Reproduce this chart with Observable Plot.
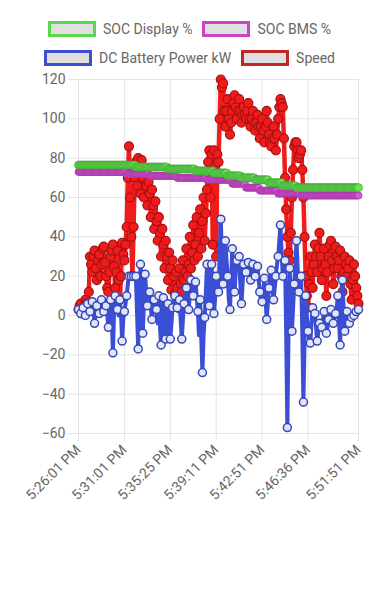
<!DOCTYPE html>
<html><head><meta charset="utf-8">
<script src="https://cdn.jsdelivr.net/npm/d3@7"></script>
<script src="https://cdn.jsdelivr.net/npm/@observablehq/plot@0.6"></script>
<style>
body{margin:0;background:#fff;font-family:Roboto,sans-serif;}
#legend{position:relative;width:390px;height:70px;}
.row{position:absolute;left:0;width:379px;display:flex;justify-content:center;align-items:center;}
.item{display:flex;align-items:center;color:#666;font-size:14px;margin:0 5px;white-space:nowrap;}
.box{width:42px;height:10px;border:3px solid;background:#e0e0e0;margin-right:7px;}
</style></head>
<body>
<div id="legend"></div>
<div id="chart"></div>
<script>
const seriesNames = ["SOC Display %", "SOC BMS %", "DC Battery Power kW", "Speed"];
const seriesColors = ["#58d84a", "#c845c8", "#3b4fd0", "#c02828"];
const tickIdx = [0, 40, 80, 120, 160, 200, 244];
const tickLabels = ["5:26:01 PM", "5:31:01 PM", "5:35:25 PM", "5:39:11 PM", "5:42:51 PM", "5:46:36 PM", "5:51:51 PM"];
const yTicks = [-60, -40, -20, 0, 20, 40, 60, 80, 100, 120];

const socDisplay = [
 76.5,76.5,76.5,76.5,76.5,76.5,76.5,76.5,76.5,76.5,
 76.5,76.5,76.5,76.5,76.5,76.5,76.5,76.5,76.5,76.5,
 76.5,76.5,76.5,76.5,76.5,76.5,76.5,76.5,76.5,76.5,
 76.5,76.5,76.5,76.5,76.5,76.5,76.5,76.5,76.5,76.5,
 76.5,76.5,76.5,76.5,76.5,76.5,76.5,76.5,76.5,76.5,
 75.5,75.5,75.5,75.5,75.5,75.5,75.5,75.5,75.5,75.5,
 75.5,75.5,75.5,75.5,75.5,75.5,75.5,75.5,75.5,75.5,
 75.5,75.5,75.5,75.5,75.5,75.5,75.5,75.5,
 74.5,74.5,74.5,74.5,74.5,74.5,74.5,74.5,74.5,74.5,
 74.5,74.5,74.5,74.5,74.5,74.5,74.5,74.5,74.5,74.5,
 74.5,74.5,74.5,74.5,
 73.5,73.5,73.5,73.5,73.5,73.5,73.5,73.5,73.5,73.5,
 73.5,73.5,73.5,73.5,73.5,73.5,
 72.5,72.5,72.5,72.5,72.5,72.5,72.5,72.5,72.5,72.5,72.5,72.5,
 71,71,71,71,71,71,71,71,71,71,71,71,
 70,70,70,70,70,70,70,70,70,70,70,70,
 69,69,69,69,69,69,69,69,69,69,69,69,
 67.5,67.5,67.5,67.5,67.5,67.5,67.5,67.5,67.5,67.5,67.5,67.5,
 66,66,66,66,66,66,66,66,66,66,66,66,
 65,65,65,65,65,65,65,65,65,65,
 65,65,65,65,65,65,65,65,65,65,
 65,65,65,65,65,65,65,65,65,65,
 65,65,65,65,65,65,65,65,65,65,
 65,65,65,65,65,65,65,65,65,65,
 65,65,65,65,65
];
const socBms = [
 73,73,73,73,73,73,73,73,73,73,
 73,73,73,73,73,73,73,73,73,73,
 73,73,73,73,73,73,73,73,73,73,
 73,73,73,73,73,73,73,73,73,73,
 73,73,
 72,72,72,72,72,72,72,72,72,72,
 72,72,72,72,72,72,72,72,72,72,
 71,71,71,71,71,71,71,71,71,71,
 71,71,71,71,71,71,71,71,71,71,
 71,71,71,71,
 70,70,70,70,70,70,70,70,70,70,
 70,70,70,70,70,70,70,70,70,70,
 70,70,70,70,70,70,
 69,69,69,69,69,69,69,69,69,69,
 69,69,69,69,69,69,69,69,69,69,
 69,69,
 67,67,67,67,67,67,67,67,67,67,67,67,
 65,65,65,65,65,65,65,65,65,65,65,65,
 63.5,63.5,63.5,63.5,63.5,63.5,63.5,63.5,
 63.5,63.5,63.5,63.5,63.5,63.5,63.5,63.5,
 62,62,62,62,62,62,62,62,62,62,
 62,62,62,62,62,62,62,62,62,62,
 61,61,61,61,61,61,61,61,61,61,
 61,61,61,61,61,61,61,61,61,61,
 61,61,61,61,61,61,61,61,61,61,
 61,61,61,61,61,61,61,61,61,61,
 61,61,61,61,61,61,61,61,61,61,
 61
];
const power = [
 3,2,1,4,4,2,0,3,6,4,
 2,5,7,3,-4,2,5,3,1,6,
 8,4,2,6,5,1,-6,4,8,-2,
 -19,2,10,6,3,0,8,2,-13,-2,
 2,6,10,16,20,20,20,20,20,20,
 20,2,-17,8,26,14,-9,6,21,12,
 5,8,12,4,-2,3,8,6,3,-4,
 10,-6,-15,-2,9,0,-12,-2,6,-4,
 -12,-4,4,8,10,6,4,2,8,-2,
 -12,-2,6,10,14,8,3,10,18,14,
 10,14,17,10,2,-10,8,-12,-29,-10,
 -1,12,26,15,5,16,26,12,1,8,
 20,14,12,30,49,30,16,26,38,28,
 20,8,3,18,34,20,12,22,28,26,
 30,16,6,16,26,24,22,24,27,22,
 18,22,26,24,20,22,25,18,12,8,
 7,12,19,8,-2,6,14,20,23,14,
 8,14,20,26,30,38,46,32,20,26,
 28,-10,-57,-10,24,8,-8,4,16,26,
 38,24,12,16,20,-8,-44,-12,10,0,
 -8,-12,-14,-4,4,2,1,-6,-13,-8,
 -4,-6,-6,-2,2,-4,-9,-6,-2,0,
 3,-1,-4,-2,1,4,10,-2,-15,2,
 18,4,-8,-2,2,0,-4,-2,-1,0,
 0,1,2,2,3
];
const speed = [
 3,5,6,2,1,4,8,6,4,12,
 30,
 26,22,30,33,24,18,28,31,20,26,
 34,35,27,20,14,12,22,30,33,36,
 25,14,22,33,18,8,20,37,31,28,
 36,
 45,70,86,60,40,20,45,70,78,66,
 80,72,62,79,70,60,74,66,56,68,
 62,50,64,56,44,58,48,38,50,42,
 30,44,36,24,38,30,18,32,24,13,
 28,20,11,22,14,10,24,16,12,28,
 18,22,34,20,26,40,24,32,46,28,
 36,50,30,42,54,34,48,60,38,52,
 64,78,84,60,82,36,84,76,30,82,
 78,100,120,116,118,104,96,104,110,100,
 92,98,104,108,112,106,100,104,110,104,
 98,102,106,102,100,104,108,100,96,100,
 104,98,94,98,102,96,90,96,100,94,
 88,96,104,98,92,88,86,90,96,90,
 84,92,100,106,110,108,106,90,70,54,
 40,32,28,42,60,74,86,88,88,84,
 80,82,84,74,60,40,20,10,4,16,
 30,22,14,26,36,30,22,34,42,30,
 18,24,34,26,10,22,30,36,38,28,
 16,24,35,30,24,28,33,20,12,22,
 30,26,20,24,28,16,8,18,26,20,
 14,10,6
];

// legend
const legend = document.getElementById("legend");
const rows = [[0, 1], [2, 3]];
const rowTops = [21, 50];
rows.forEach((r, ri) => {
  const row = document.createElement("div");
  row.className = "row";
  row.style.top = rowTops[ri] + "px";
  r.forEach(k => {
    const it = document.createElement("div");
    it.className = "item";
    const b = document.createElement("span");
    b.className = "box";
    b.style.borderColor = seriesColors[k];
    it.appendChild(b);
    it.appendChild(document.createTextNode(seriesNames[k]));
    row.appendChild(it);
  });
  legend.appendChild(row);
});

const labelOf = new Map(tickIdx.map((t, i) => [t, tickLabels[i]]));
const X = (d, i) => i;
const Y = d => d;

const chart = Plot.plot({
  width: 390,
  height: 529,
  marginTop: 9,
  marginLeft: 78,
  marginRight: 32,
  marginBottom: 166,
  style: {fontFamily: "Roboto, sans-serif", fontSize: "14px", background: "#fff"},
  x: {domain: [0, 244]},
  y: {domain: [-60, 120]},
  marks: [
    Plot.gridY({ticks: yTicks, stroke: "#e3e3e3", strokeOpacity: 1}),
    Plot.gridX({ticks: tickIdx, stroke: "#e3e3e3", strokeOpacity: 1}),
    Plot.axisY({ticks: yTicks, tickSize: 10, tickPadding: 3, stroke: "#e3e3e3", fill: "#666", fontSize: 14, label: null}),
    Plot.axisX({ticks: tickIdx, tickSize: 8, tickPadding: 6, tickRotate: -45, tickFormat: d => labelOf.get(d), stroke: "#e3e3e3", fill: "#666", fontSize: 14, label: null}),
    Plot.line(speed, {x: X, y: Y, stroke: "#f01c1c", strokeWidth: 4.5}),
    Plot.dot(speed, {x: X, y: Y, r: 4.5, fill: "#f01c1c", stroke: "#a51010", strokeWidth: 1.2}),
    Plot.line(power, {x: X, y: Y, stroke: "#3b4fd6", strokeWidth: 4}),
    Plot.dot(power, {x: X, y: Y, r: 4, fill: "#e2e5f7", stroke: "#3447b8", strokeWidth: 1.5, filter: (d, i) => i % 2 === 0}),
    Plot.line(socBms, {x: X, y: Y, stroke: "#cc4ccc", strokeWidth: 4}),
    Plot.dot(socBms, {x: X, y: Y, r: 3.5, fill: "#d35ad3", stroke: "#a634a6", strokeWidth: 0.8}),
    Plot.line(socDisplay, {x: X, y: Y, stroke: "#5fe04c", strokeWidth: 4}),
    Plot.dot(socDisplay, {x: X, y: Y, r: 4, fill: "#66e452", stroke: "#3c9a32", strokeWidth: 0.6})
  ]
});
document.getElementById("chart").appendChild(chart);
</script>
</body></html>
